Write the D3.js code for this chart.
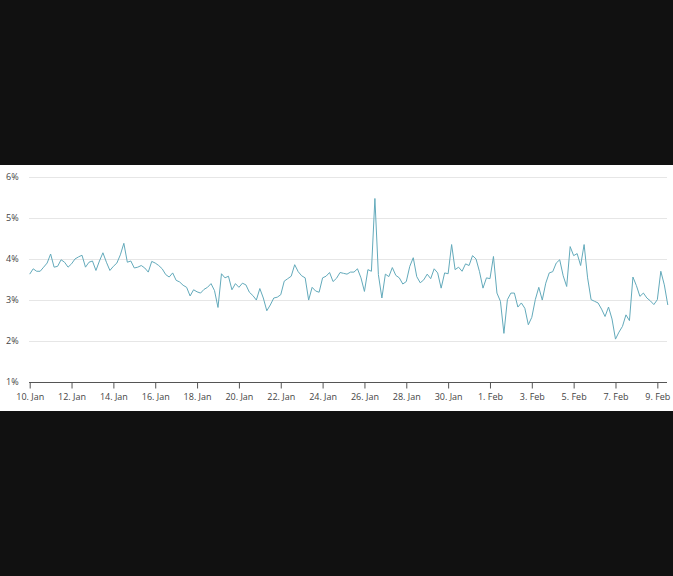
<!DOCTYPE html>
<html>
<head>
<meta charset="utf-8">
<script src="https://cdn.jsdelivr.net/npm/d3@7"></script>
<style>
  html, body { margin: 0; padding: 0; background: #111111; }
  svg { display: block; }
</style>
</head>
<body>
<svg id="chart" width="673" height="576"></svg>
<script>
// ---- data ----
const startDate = "2020-01-10T00:00";
const stepHours = 4;
const rateValues = [
  3.63, 3.76, 3.70, 3.70, 3.80, 3.90, 4.12, 3.80, 3.82, 3.98,
  3.92, 3.80, 3.88, 4.00, 4.05, 4.09, 3.80, 3.92, 3.95, 3.72,
  3.95, 4.15, 3.92, 3.72, 3.82, 3.90, 4.10, 4.38, 3.92, 3.95,
  3.78, 3.80, 3.84, 3.78, 3.68, 3.94, 3.90, 3.84, 3.76, 3.62,
  3.56, 3.66, 3.48, 3.44, 3.36, 3.31, 3.10, 3.25, 3.20, 3.17,
  3.26, 3.31, 3.40, 3.23, 2.82, 3.64, 3.54, 3.58, 3.25, 3.40,
  3.31, 3.41, 3.37, 3.19, 3.11, 3.00, 3.28, 3.05, 2.74, 2.88,
  3.05, 3.07, 3.13, 3.46, 3.52, 3.58, 3.86, 3.69, 3.59, 3.54,
  3.00, 3.31, 3.22, 3.19, 3.54, 3.58, 3.67, 3.45, 3.53, 3.67,
  3.65, 3.63, 3.68, 3.68, 3.76, 3.54, 3.21, 3.74, 3.70, 5.47,
  3.62, 3.05, 3.63, 3.57, 3.79, 3.60, 3.54, 3.39, 3.45, 3.82,
  4.03, 3.57, 3.42, 3.49, 3.63, 3.52, 3.76, 3.66, 3.29, 3.66,
  3.64, 4.35, 3.74, 3.80, 3.70, 3.88, 3.84, 4.08, 4.00, 3.69,
  3.29, 3.54, 3.52, 4.06, 3.17, 2.97, 2.19, 3.01, 3.17, 3.17,
  2.83, 2.93, 2.80, 2.40, 2.58, 3.01, 3.31, 3.00, 3.41, 3.66,
  3.69, 3.90, 3.98, 3.59, 3.33, 4.30, 4.08, 4.13, 3.84, 4.35,
  3.54, 3.01, 2.97, 2.93, 2.78, 2.60, 2.83, 2.54, 2.05, 2.22,
  2.36, 2.64, 2.50, 3.56, 3.35, 3.09, 3.17, 3.05, 2.98, 2.89,
  3.01, 3.70, 3.37, 2.88
];
const yTicks = [1, 2, 3, 4, 5, 6];
const xTickStart = "2020-01-10";
const xTickCount = 16;      // every 2 days: 10. Jan ... 9. Feb
const xTickStepDays = 2;

// ---- build ----
const parse = d3.timeParse("%Y-%m-%dT%H:%M");
const t0 = parse(startDate);
const series = rateValues.map((v, i) => ({ date: d3.timeHour.offset(t0, i * stepHours), value: v }));
const tickBase = d3.timeParse("%Y-%m-%d")(xTickStart);
const xTickValues = d3.range(xTickCount).map(i => d3.timeDay.offset(tickBase, i * xTickStepDays));

const svg = d3.select("#chart");
const font = "'Open Sans', 'Noto Sans', sans-serif";

// white panel
svg.append("rect").attr("x", 0).attr("y", 165).attr("width", 673).attr("height", 246).attr("fill", "#ffffff");

const x = d3.scaleTime()
  .domain(d3.extent(series, d => d.date))
  .range([29.7, 667.8]);
const y = d3.scaleLinear().domain([1, 6]).range([382.3, 176.7]);

// grid lines
svg.append("g").selectAll("line")
  .data(yTicks.filter(t => t !== 1))
  .join("line")
  .attr("x1", 29).attr("x2", 667)
  .attr("y1", d => Math.round(y(d)) + 0.5)
  .attr("y2", d => Math.round(y(d)) + 0.5)
  .attr("stroke", "#e6e6e6").attr("stroke-width", 1);

// y labels
svg.append("g").selectAll("text")
  .data(yTicks)
  .join("text")
  .attr("x", 6)
  .attr("y", d => y(d) + 3)
  .attr("font-family", font).attr("font-size", 9)
  .attr("fill", "#444")
  .text(d => d + "%");

// x axis
const xAxis = d3.axisBottom(x)
  .tickValues(xTickValues)
  .tickFormat(d3.timeFormat("%-d. %b"))
  .tickSize(6)
  .tickSizeOuter(0);
const gx = svg.append("g").attr("transform", "translate(0," + (Math.round(y(1)) + 0.5) + ")").call(xAxis);
gx.select(".domain").attr("stroke", "#555").attr("d", "M29," + 0 + "H667");
gx.selectAll(".tick line").attr("stroke", "#555");
gx.selectAll(".tick text")
  .attr("font-family", font).attr("font-size", 9)
  .attr("fill", "#444").attr("dy", "0.71em").attr("y", 11);

// line
const line = d3.line().x(d => x(d.date)).y(d => y(d.value));
svg.append("path")
  .datum(series)
  .attr("d", line)
  .attr("fill", "none")
  .attr("stroke", "#63aabb")
  .attr("stroke-width", 1)
  .attr("stroke-linejoin", "round");
</script>
</body>
</html>
